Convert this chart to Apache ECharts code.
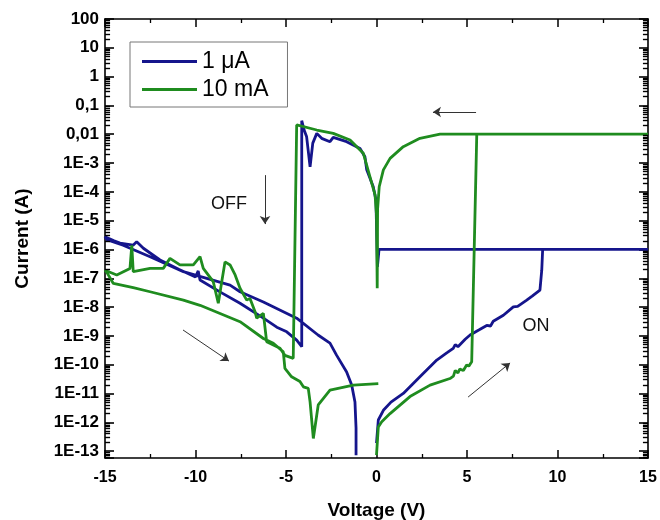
<!DOCTYPE html>
<html>
<head>
<meta charset="utf-8">
<title>I-V</title>
<script src="https://cdn.jsdelivr.net/npm/echarts@6/dist/echarts.min.js"></script>
<style>
  html, body { margin: 0; padding: 0; background: #fff; }
  #main { width: 660px; height: 520px; }
</style>
</head>
<body>
<div id="main"></div>
<script>
// sweep 0 -> +15 -> 0 -> -15 -> 0 [V, A]
const blueSweep = [
  [0, 1.9e-13], [0.1, 1.2e-12], [0.38, 2.6e-12], [0.8, 5e-12], [1.48, 1e-11],
  [2.4, 3.8e-11], [3.33, 1.45e-10], [3.9, 2.6e-10], [4.24, 3.7e-10], [4.35, 5e-10],
  [4.5, 4.2e-10], [4.9, 7.6e-10], [5.17, 1.07e-9], [5.7, 1.66e-9], [6.09, 2.3e-9],
  [6.3, 2.2e-9], [6.45, 3.2e-9], [7.01, 5.2e-9], [7.56, 1.02e-8], [7.8, 1.05e-8],
  [8.3, 1.74e-8], [8.6, 2.4e-8], [9.03, 3.9e-8], [9.13, 1.9e-7], [9.18, 1e-6],
  [15, 1e-6], [0.14, 1e-6], [0.05, 2.5e-7], [-0.03, 5.2e-5], [-0.18, 1.5e-4],
  [-0.54, 5.8e-4], [-0.64, 1.66e-3], [-0.91, 3.2e-3], [-1.65, 5.5e-3], [-2.39, 7.8e-3],
  [-2.57, 5.5e-3], [-3.03, 7.2e-3], [-3.3, 1.07e-2], [-3.52, 4.9e-3], [-3.67, 7.4e-4],
  [-3.86, 8.1e-3], [-4.0, 1.4e-2], [-4.13, 2.95e-2], [-4.13, 4.2e-10], [-4.41, 7.1e-10],
  [-4.96, 1.38e-9], [-5.51, 2.0e-9], [-6.27, 4.2e-9], [-7.54, 1.35e-8], [-8.7, 3.5e-8],
  [-9.75, 8.7e-8], [-9.85, 1.8e-7], [-10.0, 1.1e-7], [-10.9, 2e-7], [-11.96, 4.3e-7],
  [-12.88, 1.1e-6], [-13.25, 1.86e-6], [-13.45, 1.4e-6], [-14.17, 1.66e-6], [-14.5, 2e-6],
  [-15, 2.75e-6], [-14.9, 2.2e-6], [-14.0, 1.4e-6], [-12.51, 5.6e-7], [-10.67, 1.7e-7],
  [-8.09, 5.8e-8], [-7.54, 3.4e-8], [-6.25, 1.5e-8], [-4.41, 4.1e-9], [-3.23, 1.07e-9],
  [-2.57, 5.6e-10], [-2.2, 2.1e-10], [-1.65, 5.6e-11], [-1.37, 1.95e-11], [-1.19, 5.1e-12],
  [-1.13, 6.3e-13], [-1.13, 7.2e-14]
];

const greenSweep = [
  [0, 7.2e-14], [0.1, 6.9e-13], [0.29, 1.05e-12], [0.75, 2.0e-12], [1.85, 7.8e-12],
  [2.96, 1.95e-11], [4.06, 3.3e-11], [4.25, 4e-11], [4.35, 6.3e-11], [4.5, 5.2e-11],
  [4.6, 7e-11], [4.8, 6.3e-11], [4.98, 9.8e-11], [5.1, 8.9e-11], [5.26, 1.26e-10],
  [5.54, 1e-2], [15, 1e-2], [3.51, 1e-2], [2.4, 7.2e-3], [1.48, 3.7e-3],
  [0.75, 1.45e-3], [0.38, 5.8e-4], [0.15, 1.5e-4], [0.06, 2.5e-5], [0.04, 4.5e-8],
  [0.0, 1.6e-5], [-0.08, 7.9e-5], [-0.36, 3.3e-4], [-0.73, 2.2e-3], [-1.46, 6.3e-3],
  [-2.39, 1.07e-2], [-3.3, 1.4e-2], [-4.41, 2.1e-2], [-4.5, 2.2e-2], [-4.6, 1.66e-10],
  [-5.06, 2.1e-10], [-5.33, 3.7e-10], [-6.07, 6.3e-10], [-6.25, 6e-9], [-6.62, 4.1e-9],
  [-6.71, 6.9e-9], [-6.99, 2e-8], [-7.17, 1.74e-8], [-7.54, 4.5e-8], [-7.81, 1.3e-7],
  [-8.09, 2.9e-7], [-8.37, 3.7e-7], [-8.55, 7.6e-8], [-8.74, 1.35e-8], [-9.02, 7.6e-8],
  [-9.57, 2.2e-7], [-9.75, 5.6e-7], [-10.12, 2.9e-7], [-10.86, 2.9e-7], [-11.41, 4.9e-7],
  [-11.78, 2.2e-7], [-12.51, 2.2e-7], [-13.44, 1.7e-7], [-13.52, 1.4e-6], [-13.62, 2.2e-7],
  [-14.35, 1.3e-7], [-15, 1.9e-7], [-14.9, 1.6e-7], [-14.54, 6.6e-8], [-13.44, 4.7e-8],
  [-12.51, 3.4e-8], [-10.67, 1.74e-8], [-9.75, 1.15e-8], [-7.54, 3.1e-9], [-6.25, 8.1e-10],
  [-5.7, 5.5e-10], [-5.15, 2.8e-10], [-5.06, 7.4e-11], [-4.69, 3.8e-11], [-4.23, 2.6e-11],
  [-4.04, 1.7e-11], [-3.77, 1.5e-11], [-3.67, 5.1e-12], [-3.49, 2.75e-13], [-3.22, 4e-12],
  [-2.57, 1.3e-11], [-1.28, 1.95e-11], [0.1, 2.2e-11]
];

const seriesNames = ['1 \u03bcA', '10 mA'];
// labels for the decades 1E-13 ... 100
const yTickLabels = ['1E-13', '1E-12', '1E-11', '1E-10', '1E-9', '1E-8', '1E-7', '1E-6',
  '1E-5', '1E-4', '1E-3', '0,01', '0,1', '1', '10', '100'];
const minorMult = [2, 3, 4, 5, 6, 7, 8, 9];

// annotations: [text, V, A] and arrows [[V,A] from, [V,A] to]
const notes = [['OFF', -8.15, 3.8e-5], ['ON', 8.81, 2.2e-9]];
const arrows = [
  [[-6.16, 3.8e-4], [-6.16, 7.6e-6]],
  [[5.5, 0.059], [3.12, 0.059]],
  [[-10.69, 1.6e-9], [-8.15, 1.33e-10]],
  [[5.06, 7.5e-12], [7.38, 1.15e-10]]
];

const Y_MIN = -13.24, Y_MAX = 2;   // decades shown on the current axis
const TICK_V = 0.28;               // minor tick length, in volts (~5px)
const FONT = 'Arial, "Liberation Sans", Helvetica, sans-serif';
const lg = v => Math.log10(v);
const toLog = arr => arr.map(p => [p[0], lg(p[1])]);

// log minor ticks (2..9 in each decade), left and right axis
const minorTicks = [];
for (let e = -14; e < Y_MAX; e++) {
  minorMult.forEach(m => {
    const v = e + lg(m);
    if (v > Y_MIN && v < Y_MAX) {
      minorTicks.push([{ coord: [-15, v] }, { coord: [-15 + TICK_V, v] }]);
      minorTicks.push([{ coord: [15, v] }, { coord: [15 - TICK_V, v] }]);
    }
  });
}

const chart = echarts.init(document.getElementById('main'));

function xAx(pos, labels) {
  return {
    type: 'value', position: pos, min: -15, max: 15, interval: 5,
    axisLine: { show: true, onZero: false, lineStyle: { color: '#000', width: 1.6 } },
    axisTick: { show: true, inside: true, length: 8, lineStyle: { color: '#000', width: 1.5 } },
    minorTick: { show: true, splitNumber: 2, length: 4, lineStyle: { color: '#000', width: 1.3 } },
    splitLine: { show: false },
    axisLabel: { show: labels, margin: 12, fontFamily: FONT, fontWeight: 'bold', fontSize: 16, color: '#000' },
    name: labels ? 'Voltage (V)' : '', nameLocation: 'middle', nameGap: 43,
    nameTextStyle: { fontFamily: FONT, fontWeight: 'bold', fontSize: 19, color: '#000' }
  };
}

function yAx(pos, labels) {
  return {
    type: 'value', position: pos, min: Y_MIN, max: Y_MAX, splitNumber: 15,
    axisLine: { show: true, onZero: false, lineStyle: { color: '#000', width: 1.6 } },
    axisTick: { show: true, inside: true, length: 9, lineStyle: { color: '#000', width: 1.6 } },
    splitLine: { show: false },
    axisLabel: {
      show: labels, margin: 6, fontFamily: FONT, fontWeight: 'bold', fontSize: 17, color: '#000',
      formatter: function (v) {
        const e = Math.round(v);
        if (Math.abs(v - e) > 0.01) return '';
        return yTickLabels[e + 13] || '';
      }
    },
    name: labels ? 'Current (A)' : '', nameLocation: 'middle', nameGap: 73,
    nameTextStyle: { fontFamily: FONT, fontWeight: 'bold', fontSize: 19, color: '#000' }
  };
}

const option = {
  animation: false,
  backgroundColor: '#fff',
  grid: { left: 105, right: 12, top: 19, bottom: 62, containLabel: false, outerBoundsMode: 'none' },
  legend: {
    data: seriesNames.map(n => ({ name: n, icon: 'rect' })),
    left: 130, top: 42, orient: 'vertical',
    padding: [8, 19, 6, 12], itemGap: 5, itemWidth: 55, itemHeight: 3,
    borderColor: '#777', borderWidth: 1,
    textStyle: { fontFamily: FONT, fontSize: 23, color: '#000' }
  },
  xAxis: [xAx('bottom', true), xAx('top', false)],
  yAxis: [yAx('left', true), yAx('right', false)],
  series: [
    {
      name: seriesNames[0], type: 'line', data: toLog(blueSweep), symbol: 'none',
      lineStyle: { color: '#15158c', width: 2.8 }, itemStyle: { color: '#15158c' }
    },
    {
      name: seriesNames[1], type: 'line', data: toLog(greenSweep), symbol: 'none',
      lineStyle: { color: '#1f8c1f', width: 2.8 }, itemStyle: { color: '#1f8c1f' }
    },
    {
      name: 'notes', type: 'line', data: [], silent: true,
      markPoint: {
        symbol: 'circle', symbolSize: 1, itemStyle: { color: 'rgba(0,0,0,0)' },
        label: { show: true, position: 'inside', formatter: '{b}', fontFamily: FONT, fontSize: 18, color: '#111' },
        data: notes.map(n => ({ name: n[0], coord: [n[1], lg(n[2])] }))
      },
      markLine: {
        symbol: ['none', 'arrow'], symbolSize: 8,
        lineStyle: { color: '#333', width: 1, type: 'solid' },
        label: { show: false },
        emphasis: { disabled: true },
        data: arrows.map(a => [{ coord: [a[0][0], lg(a[0][1])] }, { coord: [a[1][0], lg(a[1][1])] }])
      }
    },
    {
      name: 'minorTicks', type: 'line', data: [], silent: true,
      markLine: {
        symbol: ['none', 'none'], precision: 6,
        lineStyle: { color: '#000', width: 1.4, type: 'solid' },
        label: { show: false },
        emphasis: { disabled: true },
        data: minorTicks
      }
    }
  ]
};

chart.setOption(option);
</script>
</body>
</html>
